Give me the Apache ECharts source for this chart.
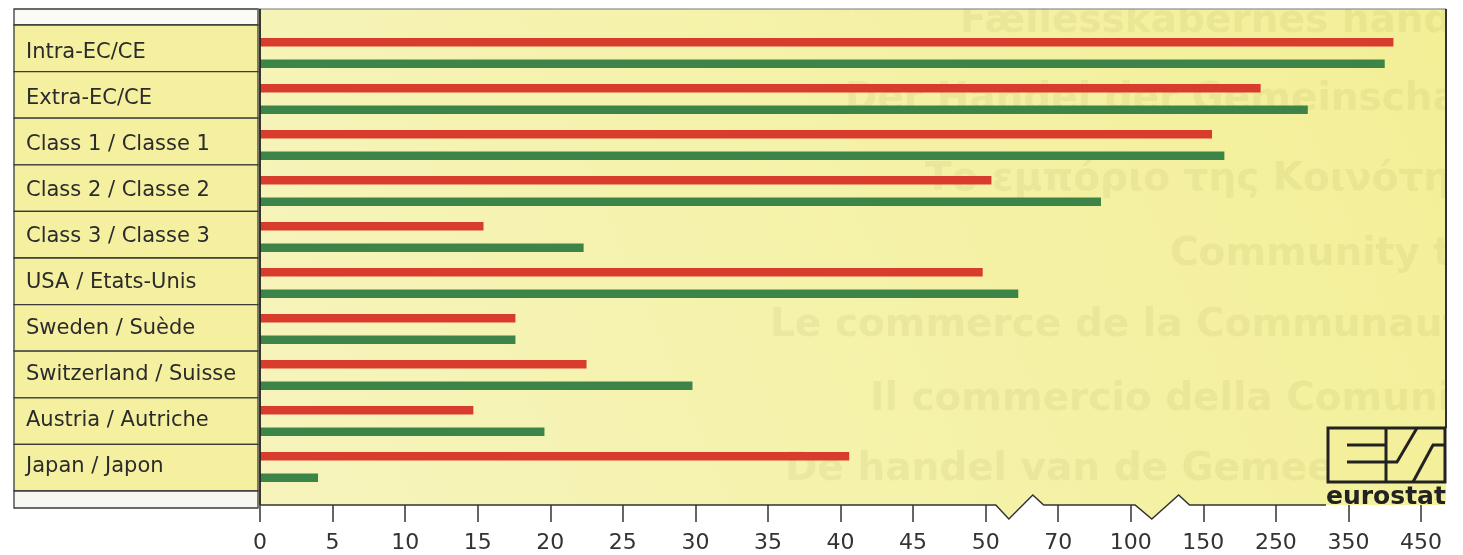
<!DOCTYPE html>
<html><head><meta charset="utf-8">
<script src="https://cdn.jsdelivr.net/npm/echarts@6/dist/echarts.min.js"></script>
<style>html,body{margin:0;padding:0;background:#fff}#c{width:1463px;height:555px}</style>
</head><body><div id="c"></div><script>
const CATEGORIES = ['Intra-EC/CE','Extra-EC/CE','Class 1 / Classe 1','Class 2 / Classe 2','Class 3 / Classe 3','USA / Etats-Unis','Sweden / Suède','Switzerland / Suisse','Austria / Autriche','Japan / Japon'];
const RED_VALUES = [412, 229, 162, 51.6, 15.4, 49.8, 17.6, 22.5, 14.7, 40.6];
const GREEN_VALUES = [400, 294, 179, 87.7, 22.3, 59, 17.6, 29.8, 19.6, 4.0];
const TICK_VALUES = [0, 5, 10, 15, 20, 25, 30, 35, 40, 45, 50, 70, 100, 150, 250, 350, 450];
const TICK_LABELS = ['0','5','10','15','20','25','30','35','40','45','50','70','100','150','250','350','450'];
const GHOST_TEXTS = ['Fællesskabernes handel','Der Handel der Gemeinschaft','Το εμπόριο της Κοινότητας','Community trade','Le commerce de la Communauté','Il commercio della Comunità','De handel van de Gemeenschap'];

// broken axis: map a real value onto the evenly spaced tick index scale
function toPos(v) {
  for (let i = 0; i < TICK_VALUES.length - 1; i++) {
    if (v <= TICK_VALUES[i + 1]) return i + (v - TICK_VALUES[i]) / (TICK_VALUES[i + 1] - TICK_VALUES[i]);
  }
  return TICK_VALUES.length - 1;
}

const chart = echarts.init(document.getElementById('c'), null, {renderer: 'canvas'});
const FONT = 'DejaVu Sans';
chart.setOption({
  animation: false,
  backgroundColor: '#ffffff',
  grid: {left: 260, right: 42, top: 30, bottom: 65, containLabel: false},
  xAxis: {
    type: 'value', min: 0, max: TICK_VALUES.length - 1, interval: 1, offset: 15,
    axisLine: {show: false}, splitLine: {show: false},
    axisTick: {show: true, length: 17, lineStyle: {color: '#333', width: 1.5}},
    axisLabel: {formatter: v => (Number.isInteger(v) && TICK_LABELS[v] !== undefined) ? TICK_LABELS[v] : '',
      fontFamily: FONT, fontSize: 22, color: '#333', margin: 27}
  },
  yAxis: {
    type: 'category', data: CATEGORIES, inverse: true,
    axisLine: {show: false}, axisTick: {show: false}, splitLine: {show: false},
    axisLabel: {align: 'left', margin: 234, fontFamily: FONT, fontSize: 21, color: '#2b2b2b'}
  },
  series: [
    {name: 'Red', type: 'bar', data: RED_VALUES.map(toPos), barWidth: 8.5, barGap: '153%',
     itemStyle: {color: '#d83c2c'}, silent: true},
    {name: 'Green', type: 'bar', data: GREEN_VALUES.map(toPos), barWidth: 8.5, barGap: '153%',
     itemStyle: {color: '#3d8448'}, silent: true}
  ]
});

const px = i => chart.convertToPixel({xAxisIndex: 0}, i);
const AX = 505;
const n1 = [10.14, 10.32, 10.65, 10.80].map(px);
const n2 = [12.06, 12.29, 12.66, 12.81].map(px);
const x0 = px(0);
const panelPts = [[257, 9], [1446, 9], [1446, AX], [n2[3], AX], [n2[2], AX - 10], [n2[1], AX + 14], [n2[0], AX],
  [n1[3], AX], [n1[2], AX - 10], [n1[1], AX + 14], [n1[0], AX], [257, AX]];
const axisPts = [[x0, AX], [n1[0], AX], [n1[1], AX + 14], [n1[2], AX - 10], [n1[3], AX], [n2[0], AX],
  [n2[1], AX + 14], [n2[2], AX - 10], [n2[3], AX], [1326, AX]];

const g = [];
g.push({type: 'polygon', z: -20, shape: {points: panelPts}, silent: true,
  style: {fill: new echarts.graphic.LinearGradient(0, 1, 1, 0, [
    {offset: 0, color: '#f6f4bc'}, {offset: 0.45, color: '#f5f2ab'}, {offset: 1, color: '#f3ef97'}])}});
const ghostPos = [[960, 22], [845, 100], [925, 180], [1170, 255], [770, 326], [870, 400], [785, 470]];
GHOST_TEXTS.forEach((t, i) => g.push({type: 'text', z: -18, silent: true, x: ghostPos[i][0], y: ghostPos[i][1],
  style: {text: t, fill: 'rgba(130,130,50,0.085)', font: 'bold 39px "DejaVu Sans"', verticalAlign: 'middle'}}));
g.push({type: 'rect', z: -17, silent: true, shape: {x: 257, y: 0, width: 1206, height: 8.5}, style: {fill: '#fff'}});
g.push({type: 'rect', z: -17, silent: true, shape: {x: 1447, y: 0, width: 16, height: 555}, style: {fill: '#fff'}});
// label column boxes
g.push({type: 'rect', z: -16, silent: true, shape: {x: 14, y: 9, width: 244, height: 16}, style: {fill: '#fbfbf6', stroke: '#3a3a3a', lineWidth: 1.3}});
for (let i = 0; i < CATEGORIES.length; i++) {
  g.push({type: 'rect', z: -16, silent: true, shape: {x: 14, y: 25 + 46.6 * i, width: 244, height: 46.6},
    style: {fill: '#f4f0a0', stroke: '#3a3a3a', lineWidth: 1.3}});
}
g.push({type: 'rect', z: -16, silent: true, shape: {x: 14, y: 491, width: 244, height: 17}, style: {fill: '#f8f8f2', stroke: '#3a3a3a', lineWidth: 1.3}});
// frame lines
g.push({type: 'line', z: 5, silent: true, shape: {x1: 257, y1: 9, x2: 1446, y2: 9}, style: {stroke: '#777', lineWidth: 1}});
g.push({type: 'line', z: 5, silent: true, shape: {x1: 1446, y1: 9, x2: 1446, y2: 428}, style: {stroke: '#333', lineWidth: 2}});
g.push({type: 'line', z: 5, silent: true, shape: {x1: x0, y1: 9, x2: x0, y2: AX}, style: {stroke: '#222', lineWidth: 1.8}});
g.push({type: 'polyline', z: 5, silent: true, shape: {points: axisPts}, style: {stroke: '#333', lineWidth: 1.5, fill: null}});
// eurostat logo
g.push({type: 'rect', z: 6, silent: true, shape: {x: 1328, y: 428, width: 117, height: 54}, style: {fill: '#f3ef9a', stroke: '#222', lineWidth: 3}});
const L = (a, b, c, d) => g.push({type: 'line', z: 7, silent: true, shape: {x1: a, y1: b, x2: c, y2: d}, style: {stroke: '#222', lineWidth: 3}});
L(1347, 445, 1386, 445);
L(1347, 462, 1398, 462);
L(1386, 428, 1386, 482);
L(1397, 462, 1417, 428);
L(1413, 482, 1433, 445);
L(1432, 445, 1445, 445);
g.push({type: 'text', z: 7, silent: true, x: 1326, y: 497,
  style: {text: 'eurostat', font: 'bold 25px "DejaVu Sans"', fill: '#222', verticalAlign: 'middle'}});

chart.setOption({graphic: {elements: g}});
</script></body></html>
